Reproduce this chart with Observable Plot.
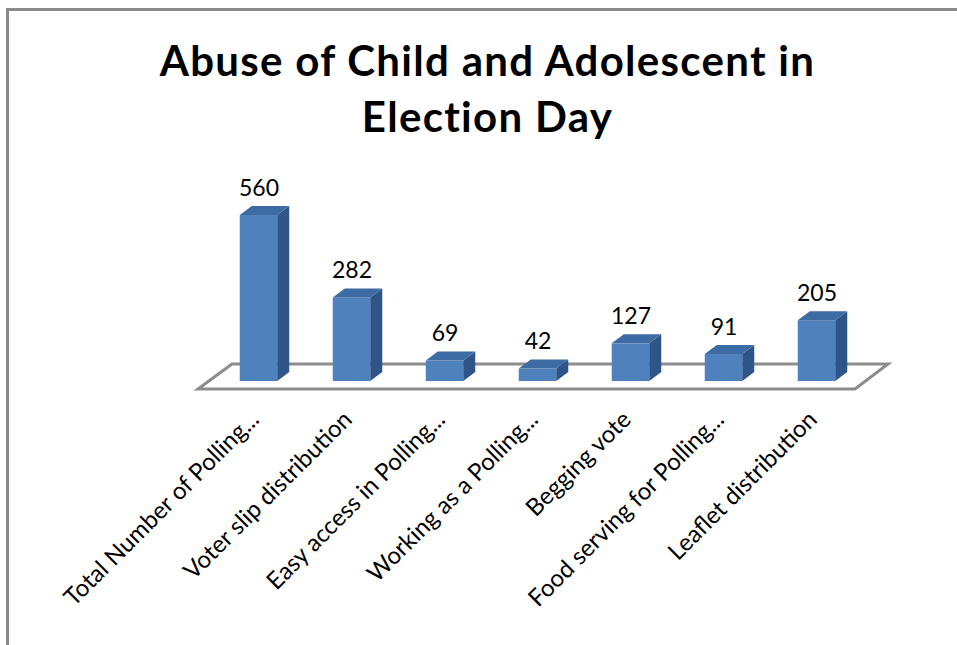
<!DOCTYPE html>
<html>
<head>
<meta charset="utf-8">
<script src="https://cdn.jsdelivr.net/npm/d3@7"></script>
<script src="https://cdn.jsdelivr.net/npm/@observablehq/plot@0.6"></script>
<style>
  html, body { margin: 0; padding: 0; background: #fff; }
  #wrap { position: relative; width: 957px; height: 645px; overflow: hidden; font-family: Lato, "Open Sans", sans-serif; }
  #frame { position: absolute; left: 6px; top: 8px; width: 980px; height: 680px;
           border-top: 3px solid #8a8a8a; border-left: 3px solid #8a8a8a; }
  #chart { position: absolute; left: 0; top: 0; }
  #title { position: absolute; left: 0; top: 32px; width: 975px; text-align: center;
           font-weight: 700; font-size: 42px; letter-spacing: 1.3px; line-height: 56px; color: #000; }
</style>
</head>
<body>
<div id="wrap">
  <div id="frame"></div>
  <div id="chart"></div>
  <div id="title">Abuse of Child and Adolescent in<br>Election Day</div>
</div>
<script>
// Category labels (as truncated on the axis) and counts per category
const categories = [
  "Total Number of Polling...",
  "Voter slip distribution",
  "Easy access in Polling...",
  "Working as a Polling...",
  "Begging vote",
  "Food serving for Polling...",
  "Leaflet distribution"
];
const counts = [560, 282, 69, 42, 127, 91, 205];

const data = categories.map((category, i) => ({category, count: counts[i]}));

// 3D look: pixel depth of each column and of the floor
const depthX = 12, depthY = 9;
const barInset = 27.75;
const frontColor = "#4f81bd", topColor = "#3d6ba3", sideColor = "#2f5487";

// floor parallelogram under the columns
function floor(index, scales) {
  const [x0, x1] = scales.x.range();
  const yb = scales.y(0);
  const pts = [[x0 - 12, yb + 8], [x1 - 10, yb + 8], [x1 + 23, yb - 17], [x0 + 22, yb - 17]];
  const g = d3.create("svg:g");
  g.append("path")
    .attr("d", "M" + pts.join("L") + "Z")
    .attr("fill", "none")
    .attr("stroke", "#8c8c8c")
    .attr("stroke-width", 3)
    .attr("stroke-linejoin", "miter");
  return g.node();
}

// top and side faces of each column
function faces(index, scales) {
  const {x, y} = scales;
  const bw = x.bandwidth();
  const g = d3.create("svg:g");
  data.forEach(d => {
    const xl = x(d.category) + barInset;
    const xr = x(d.category) + bw - barInset;
    const yt = y(d.count), yb = y(0);
    const top = [[xl, yt], [xr, yt], [xr + depthX, yt - depthY], [xl + depthX, yt - depthY]];
    const side = [[xr, yt], [xr + depthX, yt - depthY], [xr + depthX, yb - depthY], [xr, yb]];
    g.append("path").attr("d", "M" + side.join("L") + "Z").attr("fill", sideColor);
    g.append("path").attr("d", "M" + top.join("L") + "Z").attr("fill", topColor);
  });
  return g.node();
}

const chart = Plot.plot({
  width: 957,
  height: 645,
  marginTop: 215,
  marginBottom: 264,
  marginLeft: 210,
  marginRight: 92,
  style: {fontFamily: "Lato, 'Open Sans', sans-serif", fontSize: "24px", color: "#000", background: "transparent"},
  x: {domain: categories, padding: 0},
  y: {domain: [0, 560], axis: null},
  marks: [
    floor,
    Plot.barY(data, {x: "category", y: "count", fill: frontColor, insetLeft: barInset, insetRight: barInset}),
    faces,
    Plot.text(data, {x: "category", y: "count", text: d => String(d.count), dy: -27, fontSize: 23, fill: "#000"}),
    Plot.axisX({tickRotate: -45, tickSize: 0, tickPadding: 30, dx: -4, dy: 4, label: null, fontSize: 24, fill: "#000"})
  ]
});

document.getElementById("chart").appendChild(chart);
</script>
</body>
</html>
